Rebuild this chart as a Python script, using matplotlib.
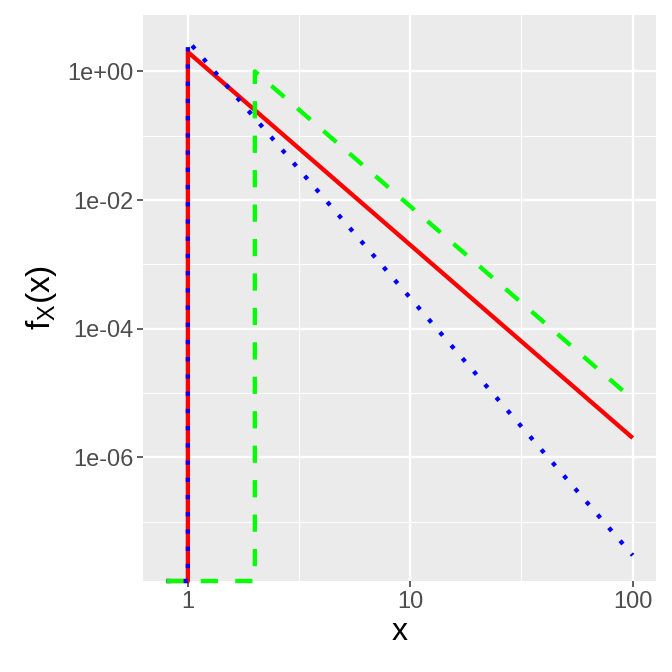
import numpy as np
import matplotlib
matplotlib.use("Agg")
import matplotlib.pyplot as plt

plt.rcParams['font.family'] = ['Liberation Sans', 'DejaVu Sans']

# vertices of each density curve (straight lines on log-log axes), 0 = below support
red_x = [0.8, 1.0, 1.0, 100.0]
red_y = [0.0, 0.0, 2.0, 2e-6]
blue_x = [0.8, 1.0, 1.0, 100.0]
blue_y = [0.0, 0.0, 3.0, 3e-8]
green_x = [0.8, 2.0, 2.0, 100.0]
green_y = [0.0, 0.0, 1.0, 8e-6]

x_ticks = [1, 10, 100]
x_tick_labels = ['1', '10', '100']
y_ticks = [1e0, 1e-2, 1e-4, 1e-6]
y_tick_labels = ['1e+00', '1e-02', '1e-04', '1e-06']

# ggplot-like limits: 5% expansion in log space
all_x = np.log10(red_x + blue_x + green_x)
pos_y = np.log10([v for v in red_y + blue_y + green_y if v > 0])
xr = all_x.max() - all_x.min()
yr = pos_y.max() - pos_y.min()
xlim = (10 ** (all_x.min() - 0.05 * xr), 10 ** (all_x.max() + 0.05 * xr))
ylim = (10 ** (pos_y.min() - 0.05 * yr), 10 ** (pos_y.max() + 0.05 * yr))


def clip_zero(vals):
    # zeros (-Inf on log scale) go to the panel edge, as ggplot does
    return [v if v > 0 else ylim[0] for v in vals]


fig = plt.figure(figsize=(6.72, 6.72), dpi=100)
ax = fig.add_axes([0.2128, 0.1354, 0.7634, 0.8423])
ax.set_facecolor('#EBEBEB')
for s in ax.spines.values():
    s.set_visible(False)

ax.set_xscale('log')
ax.set_yscale('log')
ax.set_xlim(xlim)
ax.set_ylim(ylim)

ax.set_xticks(x_ticks)
ax.set_xticklabels(x_tick_labels)
ax.set_xticks([10 ** 0.5, 10 ** 1.5], minor=True)
ax.set_yticks(y_ticks)
ax.set_yticklabels(y_tick_labels)
ax.set_yticks([1e-1, 1e-3, 1e-5, 1e-7], minor=True)
ax.tick_params(which='major', length=4, width=1.1, color='#333333',
               labelcolor='#4D4D4D', labelsize=17, pad=3)
ax.tick_params(which='minor', length=0)
ax.xaxis.set_minor_formatter(matplotlib.ticker.NullFormatter())
ax.yaxis.set_minor_formatter(matplotlib.ticker.NullFormatter())

ax.grid(which='major', color='white', linewidth=1.7)
ax.grid(which='minor', color='white', linewidth=0.85)
ax.set_axisbelow(True)

lw = 3.1
ax.plot(red_x, clip_zero(red_y), color='red', lw=lw, solid_capstyle='butt',
        solid_joinstyle='round', clip_on=False, zorder=3)
ax.plot(blue_x, clip_zero(blue_y), color='blue', lw=lw, linestyle=(0, (1, 3)),
        dash_capstyle='butt', clip_on=False, zorder=4)
ax.plot(green_x, clip_zero(green_y), color='#00FF00', lw=lw, linestyle=(0, (4, 4)),
        dash_capstyle='butt', clip_on=False, zorder=5)

ax.set_xlabel('x', fontsize=23, labelpad=3)
ax.set_ylabel(r'$\mathregular{f_X(x)}$', fontsize=24, labelpad=6)

fig.savefig('out.png', dpi=100)
